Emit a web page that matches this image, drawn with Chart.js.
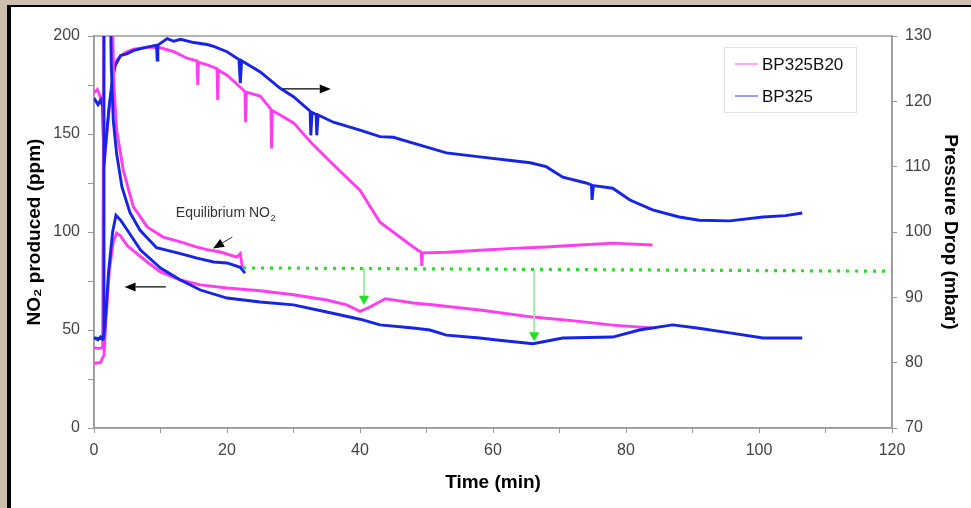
<!DOCTYPE html>
<html>
<head>
<meta charset="utf-8">
<script src="https://cdn.jsdelivr.net/npm/chart.js@4.4.1/dist/chart.umd.min.js"></script>
<style>
  html, body { margin: 0; padding: 0; background: #cdbfae; overflow: hidden; }
  #frame { position: absolute; left: 7px; top: 5px; width: 960px; height: 501px;
           border-left: 4px solid #000; border-top: 2px solid #000; background: #fff; }
  #wrap { position: absolute; left: 0; top: 0; width: 960px; height: 501px; }
</style>
</head>
<body>
<div id="frame"><div id="wrap"><canvas id="c" width="960" height="501"></canvas></div></div>
<script>
// time axis (min) and readings
const pdPinkT = [0, 0.5, 1.0, 1.3, 1.5, 1.8, 2.3, 2.8, 3.2, 4, 5, 6, 8, 10, 12, 14, 15.5, 15.6, 15.7, 17, 18.5, 18.6, 18.7, 20, 22.7, 22.8, 22.9, 25, 26.6, 26.7, 26.8, 28, 30, 33, 36, 40, 43, 48, 49.2, 49.3, 49.4, 53, 58, 63, 68, 73, 78, 84];
const pdPinkV = [121.3, 121.8, 120.5, 120.8, 110, 113.5, 119, 123.5, 126, 127, 127.6, 128, 128.3, 128.2, 127.6, 126.6, 126.2, 122.5, 126, 125.6, 125, 120.2, 124.8, 124, 121.5, 116.8, 121.4, 120.8, 118.8, 112.8, 118.6, 117.9, 116.7, 113.3, 110.3, 106.4, 101.5, 97.7, 96.9, 94.8, 96.8, 96.9, 97.2, 97.5, 97.7, 98, 98.3, 98];

const pdBlueT = [0, 0.6, 1.0, 1.3, 1.5, 1.8, 2.3, 2.8, 3.2, 4, 5, 6, 8, 9.4, 9.5, 9.6, 11, 12, 13, 15, 17, 18, 20, 21.8, 22, 22.2, 25, 28, 30, 32.5, 32.6, 32.8, 33.4, 33.5, 33.7, 36, 40, 43, 45, 48, 53, 58, 63, 65.6, 68, 70.5, 74, 74.8, 74.9, 75.1, 78, 80.6, 84, 88, 91, 95.6, 100.6, 104, 106.5];
const pdBlueV = [120.5, 119.5, 120.2, 119.2, 110.5, 114, 119.5, 123.5, 125.5, 127, 127.3, 127.8, 128.3, 128.6, 126.3, 128.6, 129.6, 129.2, 129.5, 129, 128.7, 128.4, 127.6, 126.4, 122.8, 126.2, 124.5, 122, 120.7, 118.5, 114.8, 118.3, 118, 114.8, 117.9, 116.8, 115.6, 114.6, 114.5, 113.6, 112.1, 111.5, 110.9, 110.6, 110, 108.4, 107.5, 107.2, 104.9, 107.1, 106.7, 104.9, 103.4, 102.3, 101.8, 101.7, 102.3, 102.5, 102.9];

const eqPinkT = [0, 0.7, 1.3, 1.5, 2.6, 3.0, 3.4, 4.4, 5.9, 8, 10.4, 13, 15.5, 17, 19, 21.5, 22, 22.3];
const eqPinkV = [41, 40.5, 41, 230, 230, 175, 152, 131.6, 113, 102.6, 97.4, 95, 92.3, 91, 89.8, 87.2, 89, 82];

const eqBlueT = [0, 0.6, 1.0, 1.4, 1.5, 2.4, 2.6, 2.9, 3.4, 4.2, 5.4, 6.9, 9.4, 13, 15.5, 18, 20, 22, 22.7];
const eqBlueV = [46, 45, 46.5, 45, 230, 230, 185, 157, 140, 123, 110, 101, 92, 89, 86.7, 84.7, 84.2, 82, 79];

const prPinkT = [0, 1.0, 1.3, 1.5, 1.8, 2.3, 2.9, 3.4, 4, 5, 8, 10, 13, 16, 20, 25, 30, 35, 38, 40, 41.5, 43.8, 48, 50.5, 58, 66, 72.6, 78, 84];
const prPinkV = [33, 33.5, 36, 37, 55, 80, 95, 99.5, 98, 93, 84.7, 79.6, 75.5, 73, 71.4, 70, 68, 65.3, 62.8, 59.5, 61.7, 66, 63.8, 63, 60.2, 56.6, 54.5, 52.5, 51];

const prBlueT = [0, 1.4, 1.6, 2.2, 2.8, 3.3, 4, 5, 7, 10, 13, 16, 20, 25, 30, 35, 40, 43, 48, 50.5, 53, 58, 60.6, 66, 70.5, 78, 82, 87, 90.7, 95.6, 100.6, 106.5];
const prBlueV = [46, 45.5, 50, 80, 100, 108.5, 106, 101, 90.8, 81.6, 75.5, 70.4, 66.3, 64.3, 62.8, 59.2, 55.5, 52.6, 51, 50, 47.4, 45.9, 44.9, 43, 45.9, 46.4, 50, 52.6, 51, 48.5, 45.9, 45.9];

// green equilibrium reference line (mbar) and the two drops
const refT = [22.4, 120];
const refV = [94.5, 94.0];
const dropAT = [40.6, 40.6];
const dropAV = [94.4, 89.8];
const dropBT = [66.2, 66.2];
const dropBV = [94.2, 84.2];

const PINK = '#ff3cf0';
const BLUE = '#1624ea';
const GREEN = '#22e022';

const pts = (ts, vs) => ts.map((t, i) => ({ x: t, y: vs[i] }));

const frameBox = {
  id: 'frameBox',
  beforeDatasetsDraw(chart) {
    const { ctx, chartArea: a } = chart;
    ctx.save();
    ctx.strokeStyle = '#9a9a9a';
    ctx.lineWidth = 1.5;
    ctx.strokeRect(a.left, a.top, a.right - a.left, a.bottom - a.top);
    ctx.restore();
  }
};

function arrow(ctx, x1, y1, x2, y2) {
  const ang = Math.atan2(y2 - y1, x2 - x1);
  const len = 11, hw = 4.5;
  ctx.beginPath();
  ctx.moveTo(x1, y1);
  ctx.lineTo(x2 - Math.cos(ang) * len, y2 - Math.sin(ang) * len);
  ctx.stroke();
  ctx.beginPath();
  ctx.moveTo(x2, y2);
  ctx.lineTo(x2 - Math.cos(ang) * len - Math.sin(ang) * hw, y2 - Math.sin(ang) * len + Math.cos(ang) * hw);
  ctx.lineTo(x2 - Math.cos(ang) * len + Math.sin(ang) * hw, y2 - Math.sin(ang) * len - Math.cos(ang) * hw);
  ctx.closePath();
  ctx.fill();
}

const notes = {
  id: 'notes',
  afterDatasetsDraw(chart) {
    const { ctx, scales: { x, y, y1 } } = chart;
    ctx.save();
    ctx.strokeStyle = '#000';
    ctx.fillStyle = '#000';
    ctx.lineWidth = 1.2;
    // pressure-drop curves -> right axis
    arrow(ctx, x.getPixelForValue(28.4), y1.getPixelForValue(121.9), x.getPixelForValue(35.6), y1.getPixelForValue(121.9));
    // NO2 curves -> left axis
    arrow(ctx, x.getPixelForValue(10.8), y.getPixelForValue(72), x.getPixelForValue(4.6), y.getPixelForValue(72));
    // equilibrium pointer
    ctx.lineWidth = 0.8;
    arrow(ctx, x.getPixelForValue(20.8), y.getPixelForValue(97.4), x.getPixelForValue(17.9), y.getPixelForValue(91.6));

    ctx.fillStyle = '#333';
    ctx.font = '14px "Liberation Sans", Arial, sans-serif';
    ctx.textBaseline = 'alphabetic';
    const lx = x.getPixelForValue(12.3), ly = y.getPixelForValue(107.7);
    ctx.fillText('Equilibrium NO', lx, ly);
    const w = ctx.measureText('Equilibrium NO').width;
    ctx.font = '9px "Liberation Sans", Arial, sans-serif';
    ctx.fillText('2', lx + w + 0.5, ly + 4);

    // legend
    const bx = 713, by = 40, bw = 132, bh = 65;
    ctx.strokeStyle = '#e2e2e2';
    ctx.lineWidth = 1;
    ctx.strokeRect(bx + 0.5, by + 0.5, bw, bh);
    const items = [['BP325B20', PINK], ['BP325', BLUE]];
    ctx.font = '17px "Liberation Sans", Arial, sans-serif';
    ctx.textBaseline = 'middle';
    items.forEach(([label, col], i) => {
      const yy = by + 17 + i * 32;
      ctx.strokeStyle = col;
      ctx.globalAlpha = 0.6;
      ctx.lineWidth = 1.5;
      ctx.beginPath();
      ctx.moveTo(bx + 11, yy);
      ctx.lineTo(bx + 34, yy);
      ctx.stroke();
      ctx.globalAlpha = 1;
      ctx.fillStyle = '#111';
      ctx.fillText(label, bx + 38, yy + 1);
    });
    ctx.restore();
  }
};

const curve = (label, ts, vs, color, axis, order) => ({
  label, data: pts(ts, vs), borderColor: color, backgroundColor: color,
  borderWidth: 2.9, pointRadius: 0, tension: 0, yAxisID: axis, order
});

const drop = (ts, vs) => ({
  data: pts(ts, vs), yAxisID: 'y1', borderColor: '#9be89b', borderWidth: 1,
  pointRadius: [0, 6], pointStyle: 'triangle', rotation: 180,
  pointBackgroundColor: GREEN, pointBorderColor: GREEN, pointBorderWidth: 0, order: 0
});

const tickFont = { family: '"Liberation Sans", Arial, sans-serif', size: 16 };
const titleFont = { family: '"Liberation Sans", Arial, sans-serif', size: 19, weight: 'bold' };
const gridOpts = { drawOnChartArea: false, drawTicks: true, tickLength: 6, color: '#9a9a9a' };

new Chart(document.getElementById('c'), {
  type: 'line',
  data: {
    datasets: [
      curve('BP325B20', pdPinkT, pdPinkV, PINK, 'y1', 6),
      curve('BP325', pdBlueT, pdBlueV, BLUE, 'y1', 5),
      curve('BP325B20 eq', eqPinkT, eqPinkV, PINK, 'y', 4),
      curve('BP325 eq', eqBlueT, eqBlueV, BLUE, 'y', 3),
      curve('BP325B20 NO2', prPinkT, prPinkV, PINK, 'y', 2),
      curve('BP325 NO2', prBlueT, prBlueV, BLUE, 'y', 1),
      { data: pts(refT, refV), yAxisID: 'y1', borderColor: GREEN, borderWidth: 3.2,
        borderDash: [3, 6], pointRadius: 0, order: 0 },
      drop(dropAT, dropAV),
      drop(dropBT, dropBV)
    ]
  },
  options: {
    animation: false, responsive: false, devicePixelRatio: 1,
    layout: { padding: { top: 29, left: 0, right: 0, bottom: 0 } },
    plugins: { legend: { display: false }, tooltip: { enabled: false } },
    scales: {
      x: {
        type: 'linear', min: 0, max: 120,
        ticks: { stepSize: 10, color: '#444', font: tickFont, padding: 8, maxRotation: 0,
                 callback: v => (v % 20 === 0 ? v : '') },
        grid: { ...gridOpts, tickLength: 5 },
        border: { display: true, color: '#9a9a9a', width: 1.5 },
        title: { display: true, text: 'Time (min)', font: titleFont, color: '#000', padding: { top: 0, bottom: 14 } },
        afterFit: s => { s.height = 80; }
      },
      y: {
        position: 'left', min: 0, max: 200,
        ticks: { stepSize: 25, color: '#444', font: tickFont, padding: 8,
                 callback: v => (v % 50 === 0 ? v : '') },
        grid: gridOpts,
        border: { display: true, color: '#9a9a9a', width: 1.5 },
        title: { display: true, text: 'NO₂ produced (ppm)', font: titleFont, color: '#000', padding: { top: 12, bottom: 0 } },
        afterFit: s => { s.width = 83; }
      },
      y1: {
        position: 'right', min: 70, max: 130,
        ticks: { stepSize: 10, color: '#444', font: tickFont, padding: 8 },
        grid: { ...gridOpts, tickLength: 5 },
        border: { display: true, color: '#9a9a9a', width: 1.5 },
        title: { display: true, text: 'Pressure Drop (mbar)', font: titleFont, color: '#000', padding: { top: 9, bottom: 0 } },
        afterFit: s => { s.width = 79; }
      }
    }
  },
  plugins: [frameBox, notes]
});
</script>
</body>
</html>
